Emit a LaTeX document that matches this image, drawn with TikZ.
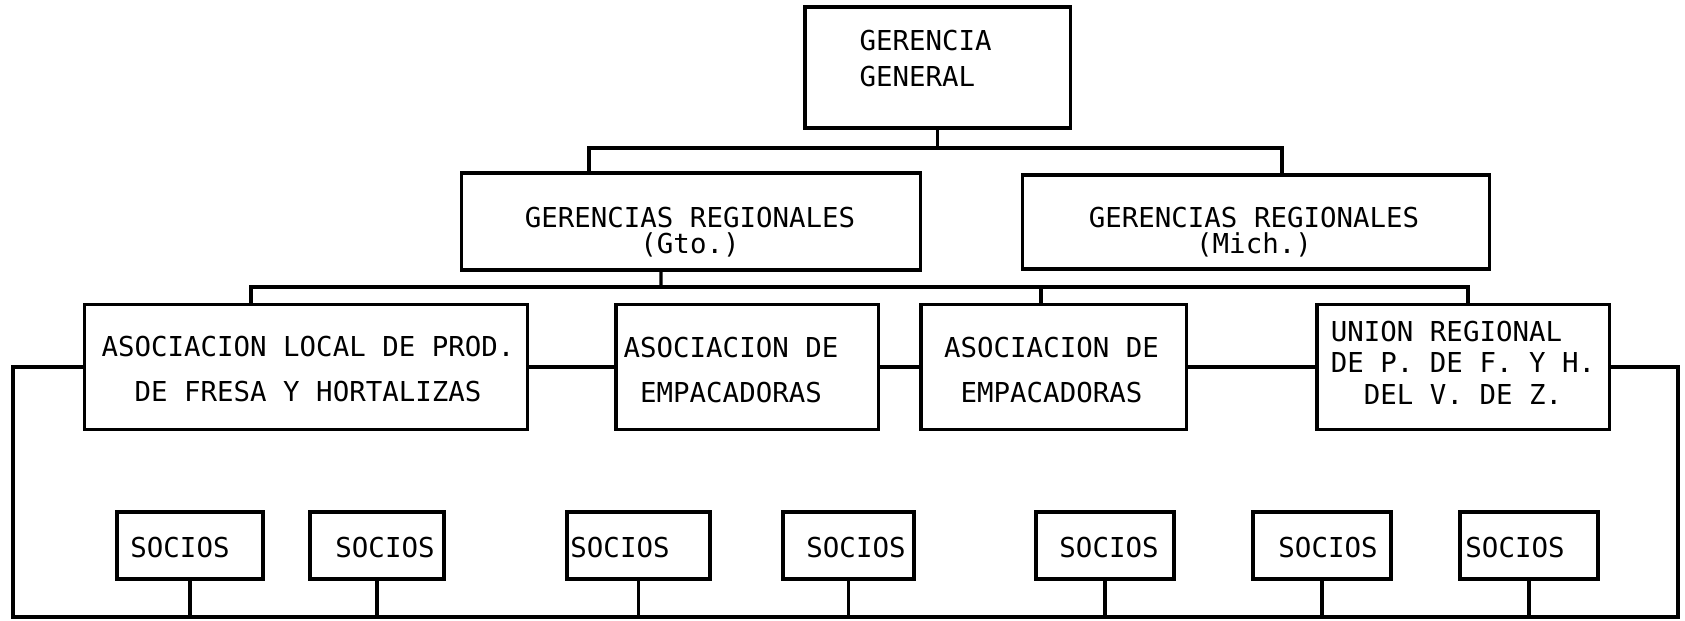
\documentclass[tikz,border=0pt]{standalone}
\usepackage{fontspec}
\newfontfamily\typefont{DejaVu Sans Mono}

\begin{document}
\begin{tikzpicture}[x=0.01cm,y=-0.01cm,line width=0.9pt,
                    box/.style={draw,inner sep=0pt},
                    txt/.style={font=\typefont\fontsize{7.8pt}{#1}\selectfont,inner sep=0pt,align=center},
                    txt/.default=13pt]
                      \useasboundingbox (0,0) rectangle (1685,620);
                      % gerencia general
                      \node[box,minimum width=2.65cm,minimum height=1.21cm] (gg) at (937.5,67.5) {};
                      \node[txt=10.5pt,align=left,anchor=west] (ggtxt) at (858,58.5) {GERENCIA\\GENERAL};
                      % gerencias regionales
                      \node[box,minimum width=4.58cm,minimum height=0.97cm] (gto) at (691,221.5) {};
                      \node[txt=7.4pt] (gtotxt) at (690,232) {GERENCIAS REGIONALES\\(Gto.)};
                      \node[box,minimum width=4.66cm,minimum height=0.94cm] (mich) at (1256,222) {};
                      \node[txt=7.4pt] (michtxt) at (1254,232) {GERENCIAS REGIONALES\\(Mich.)};
                      % asociaciones
                      \node[box,minimum width=4.42cm,minimum height=1.25cm] (loc) at (306,367) {};
                      \node[txt] (loctxt) at (308,369) {ASOCIACION LOCAL DE PROD.\\DE FRESA Y HORTALIZAS};
                      \node[box,minimum width=2.62cm,minimum height=1.25cm] (empa) at (747,367) {};
                      \node[txt] (empatxt) at (731,370) {ASOCIACION DE\\EMPACADORAS};
                      \node[box,minimum width=2.65cm,minimum height=1.25cm] (empb) at (1053.5,367) {};
                      \node[txt] (empbtxt) at (1051.5,370) {ASOCIACION DE\\EMPACADORAS};
                      \node[box,minimum width=2.92cm,minimum height=1.25cm] (union) at (1463,367) {};
                      \node[txt=9pt] (uniontxt) at (1463,362.5) {UNION REGIONAL\phantom{ZZ}\\DE P. DE F. Y H.\\DEL V. DE Z.};
                      % socios
                      \foreach \n/\bx/\bw/\tx in {1/190/1.46/180, 2/377/1.34/385, 3/638.5/1.43/620, 4/848.5/1.31/856,
                                                  5/1105/1.38/1109, 6/1322/1.38/1328, 7/1529/1.38/1515}
                      {
                        \node[box,minimum width=\bw cm,minimum height=0.67cm] (s\n) at (\bx,545.5) {};
                        \node[txt] (s\n txt) at (\tx,547) {SOCIOS};
                      }
                      % lineas
                      \coordinate (top) at (937.5,148);
                      \coordinate (mid) at (661,287);
                      \coordinate (bjoin) at (1041,287);
                      \coordinate (bl) at (13,617);
                      \coordinate (br) at (1678,617);
                      \draw (gg.south) -- (top);
                      \draw ([xshift=-1.02cm]gto.north) |- (top) -| ([xshift=0.26cm]mich.north);
                      \draw ([xshift=-0.3cm]gto.south) -- (mid);
                      \draw ([xshift=-0.55cm]loc.north) |- (mid) -| ([xshift=0.05cm]union.north);
                      \draw (bjoin) -- (bjoin |- empb.north);
                      \draw (loc.east) -- (empa.west);
                      \draw (empa.east) -- (empb.west);
                      \draw (empb.east) -- (union.west);
                      \draw (loc.west) -| (bl) -- (br) |- (union.east);
                      \foreach \n in {1,...,7}
                        \draw (s\n.south) -- (s\n.south |- bl);
                  \end{tikzpicture}
\end{document}
